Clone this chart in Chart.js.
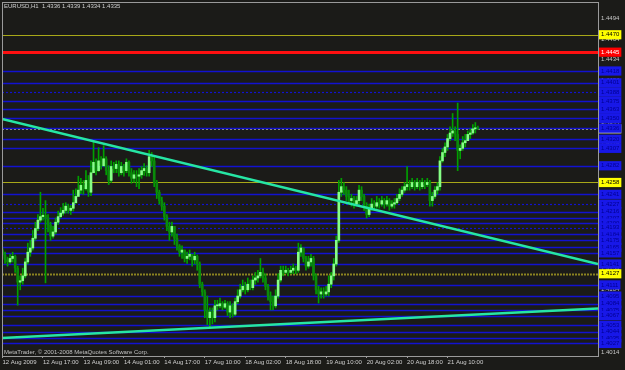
<!DOCTYPE html>
<html>
<head>
<meta charset="utf-8">
<script src="https://cdn.jsdelivr.net/npm/chart.js@4.4.1/dist/chart.umd.min.js"></script>
<style>
  html, body { margin: 0; padding: 0; background: #1b1b18; }
  #wrap { width: 625px; height: 370px; position: relative; }
</style>
</head>
<body>
<div id="wrap"><canvas id="chart"></canvas></div>
<script>
// EURUSD H1, 12-21 Aug 2009 (hourly bars, open = previous close)
const titleText = 'EURUSD,H1  1.4336 1.4339 1.4334 1.4335';
const copyright = 'MetaTrader, \u00a9 2001-2008 MetaQuotes Software Corp.';

const timeLabels = ['12 Aug 2009', '12 Aug 17:00', '13 Aug 09:00', '14 Aug 01:00', '14 Aug 17:00',
  '17 Aug 10:00', '18 Aug 02:00', '18 Aug 18:00', '19 Aug 10:00', '20 Aug 02:00', '20 Aug 18:00', '21 Aug 10:00'];
const timeTickBars = [0, 16, 32, 48, 64, 80, 96, 112, 128, 144, 160, 176];

const firstOpen = 1.4161;
const closes = [
  1.4154, 1.4147, 1.4144, 1.4149, 1.4152, 1.4135, 1.4115, 1.4117, 1.4124, 1.4144,
  1.4158, 1.4164, 1.4178, 1.4192, 1.4204, 1.4209, 1.4211, 1.4207, 1.4197, 1.4181,
  1.4187, 1.4201, 1.4209, 1.4214, 1.4218, 1.4224, 1.4218, 1.4221, 1.4229, 1.4238,
  1.4247, 1.4254, 1.4249, 1.4261, 1.4244, 1.4272, 1.4287, 1.4275, 1.4289, 1.4282,
  1.4292, 1.4275, 1.4261, 1.4281, 1.4278, 1.4284, 1.4272, 1.4281, 1.4275, 1.4287,
  1.4272, 1.4264, 1.4269, 1.4267, 1.4269, 1.4275, 1.4278, 1.4272, 1.4295, 1.4289,
  1.4258, 1.4244, 1.4232, 1.4224, 1.4209, 1.4195, 1.4187, 1.4195, 1.4178, 1.4167,
  1.4158, 1.4161, 1.4149, 1.4152, 1.4155, 1.4147, 1.4152, 1.4141, 1.4112, 1.4101,
  1.4075, 1.4064, 1.4072, 1.4064, 1.4081, 1.4081, 1.4084, 1.4079, 1.4084, 1.4072,
  1.4081, 1.4069, 1.4087, 1.4095, 1.4104, 1.4109, 1.4104, 1.4112, 1.4107, 1.4118,
  1.4121, 1.4124, 1.4129, 1.4121, 1.4109, 1.4095, 1.4087, 1.4081, 1.4095, 1.4118,
  1.4132, 1.4129, 1.4132, 1.4129, 1.4132, 1.4135, 1.4132, 1.4158, 1.4164, 1.4149,
  1.4138, 1.4144, 1.4149, 1.4124, 1.4104, 1.4098, 1.4101, 1.4098, 1.4101, 1.4112,
  1.4124, 1.4141, 1.4175, 1.4244, 1.4252, 1.4247, 1.4238, 1.4232, 1.4235, 1.4227,
  1.4232, 1.4247, 1.4238, 1.4224, 1.4212, 1.4221, 1.4227, 1.4224, 1.4229, 1.4227,
  1.4232, 1.4227, 1.4232, 1.4224, 1.4227, 1.4229, 1.4235, 1.4241, 1.4247, 1.4252,
  1.4255, 1.4252, 1.4258, 1.4252, 1.4258, 1.4252, 1.4258, 1.4255, 1.4258, 1.4232,
  1.4238, 1.4247, 1.4252, 1.4289, 1.4301, 1.4309, 1.4321, 1.4329, 1.4332, 1.4327,
  1.4304, 1.4307, 1.4315, 1.4318, 1.4327, 1.4329, 1.4335, 1.4336, 1.4335
];
const highs = [
  1.4164, 1.4158, 1.4151, 1.4155, 1.4158, 1.4154, 1.4138, 1.4124, 1.4135, 1.4149,
  1.4171, 1.4175, 1.4189, 1.4201, 1.4212, 1.4244, 1.4221, 1.4232, 1.4212, 1.4201,
  1.4195, 1.4207, 1.4217, 1.4222, 1.4228, 1.4229, 1.4227, 1.4225, 1.4247, 1.4249,
  1.4267, 1.4264, 1.4261, 1.4275, 1.4268, 1.4289, 1.4318, 1.4292, 1.4308, 1.4295,
  1.4311, 1.4295, 1.4282, 1.4289, 1.4287, 1.4289, 1.4289, 1.4287, 1.4284, 1.4292,
  1.4289, 1.4278, 1.4275, 1.4275, 1.4278, 1.4281, 1.4285, 1.4282, 1.4304, 1.4301,
  1.4294, 1.4261, 1.4247, 1.4237, 1.4229, 1.4212, 1.4201, 1.4201, 1.4195, 1.4184,
  1.4169, 1.4167, 1.4161, 1.4158, 1.4161, 1.4155, 1.4158, 1.4154, 1.4144, 1.4115,
  1.4104, 1.4095, 1.4078, 1.4078, 1.4089, 1.4089, 1.4092, 1.4087, 1.4089, 1.4087,
  1.4087, 1.4084, 1.4092, 1.4104, 1.4112, 1.4118, 1.4115, 1.4121, 1.4118, 1.4124,
  1.4129, 1.4132, 1.4149, 1.4135, 1.4127, 1.4112, 1.4101, 1.4095, 1.4104, 1.4127,
  1.4138, 1.4138, 1.4138, 1.4135, 1.4138, 1.4141, 1.4138, 1.4171, 1.4169, 1.4164,
  1.4152, 1.4152, 1.4155, 1.4152, 1.4127, 1.4109, 1.4107, 1.4107, 1.4109, 1.4124,
  1.4129, 1.4149, 1.4181, 1.4261, 1.4264, 1.4258, 1.4252, 1.4247, 1.4241, 1.4238,
  1.4238, 1.4254, 1.4252, 1.4241, 1.4229, 1.4227, 1.4235, 1.4232, 1.4238, 1.4235,
  1.4238, 1.4235, 1.4238, 1.4235, 1.4232, 1.4235, 1.4241, 1.4249, 1.4252, 1.4258,
  1.4281, 1.4261, 1.4264, 1.4261, 1.4264, 1.4261, 1.4264, 1.4261, 1.4264, 1.4261,
  1.4244, 1.4252, 1.4258, 1.4295, 1.4307, 1.4315, 1.4327, 1.4338, 1.4357, 1.4338,
  1.4372, 1.4312, 1.4324, 1.4327, 1.4332, 1.4335, 1.4341, 1.4344, 1.4339
];
const lows = [
  1.4149, 1.4142, 1.4138, 1.4142, 1.4144, 1.4129, 1.4082, 1.4104, 1.4112, 1.4121,
  1.4141, 1.4152, 1.4161, 1.4175, 1.4189, 1.4201, 1.4204, 1.4114, 1.4187, 1.4175,
  1.4178, 1.4184, 1.4198, 1.4207, 1.4211, 1.4214, 1.4214, 1.4212, 1.4217, 1.4228,
  1.4238, 1.4242, 1.4241, 1.4247, 1.4238, 1.4239, 1.4272, 1.4269, 1.4274, 1.4277,
  1.4281, 1.4269, 1.4255, 1.4258, 1.4272, 1.4272, 1.4267, 1.4269, 1.4267, 1.4272,
  1.4267, 1.4257, 1.4258, 1.4252, 1.4249, 1.4264, 1.4268, 1.4267, 1.4267, 1.4281,
  1.4252, 1.4235, 1.4227, 1.4218, 1.4204, 1.4189, 1.4175, 1.4181, 1.4169, 1.4161,
  1.4152, 1.4149, 1.4144, 1.4142, 1.4147, 1.4138, 1.4141, 1.4132, 1.4107, 1.4095,
  1.4064, 1.4054, 1.4049, 1.4055, 1.4058, 1.4075, 1.4078, 1.4075, 1.4077, 1.4067,
  1.4064, 1.4065, 1.4067, 1.4084, 1.4092, 1.4101, 1.4098, 1.4101, 1.4104, 1.4104,
  1.4112, 1.4115, 1.4121, 1.4115, 1.4104, 1.4089, 1.4075, 1.4075, 1.4078, 1.4092,
  1.4115, 1.4124, 1.4127, 1.4124, 1.4127, 1.4127, 1.4127, 1.4129, 1.4152, 1.4144,
  1.4132, 1.4135, 1.4138, 1.4118, 1.4098, 1.4085, 1.4092, 1.4092, 1.4095, 1.4095,
  1.4107, 1.4118, 1.4138, 1.4172, 1.4238, 1.4241, 1.4232, 1.4227, 1.4224, 1.4221,
  1.4224, 1.4227, 1.4232, 1.4218, 1.4207, 1.4209, 1.4218, 1.4218, 1.4221, 1.4221,
  1.4224, 1.4221, 1.4224, 1.4218, 1.4221, 1.4221, 1.4227, 1.4232, 1.4238, 1.4244,
  1.4247, 1.4247, 1.4249, 1.4247, 1.4249, 1.4247, 1.4249, 1.4249, 1.4252, 1.4224,
  1.4224, 1.4235, 1.4241, 1.4247, 1.4287, 1.4295, 1.4304, 1.4318, 1.4324, 1.4318,
  1.4275, 1.4292, 1.4304, 1.4309, 1.4318, 1.4321, 1.4327, 1.4329, 1.4334
];

// horizontal levels drawn on the chart
const blueLevels = [1.4418, 1.4401, 1.4375, 1.4363, 1.4350, 1.4336, 1.4320, 1.4307, 1.4282, 1.4241,
  1.4216, 1.4207, 1.4200, 1.4184, 1.4175, 1.4165, 1.4157, 1.4141, 1.4111, 1.4095,
  1.4084, 1.4075, 1.4067, 1.4053, 1.4044, 1.4035, 1.4027];
const blueDotted = [1.4388, 1.4227, 1.4193];
const yellowLevels = [1.4470, 1.4258];
const redLevels = [1.4445];
const oliveDotted = [1.4127];
const bidLevel = [1.4335];
const gridLabels = [1.4494, 1.4464, 1.4434, 1.4404, 1.4374, 1.4344, 1.4314, 1.4284, 1.4254, 1.4224,
  1.4194, 1.4164, 1.4134, 1.4104, 1.4074, 1.4044, 1.4014];

// trend lines: price at left edge and right edge of the chart
const trendDown = [1.4349, 1.4141];
const trendUp = [1.4035, 1.4077];

const xMin = -0.2, xMax = 235.5;
const font = { family: 'Liberation Sans', size: 6 };
const bg = '#1b1b18';

const opens = closes.map((c, i) => i === 0 ? firstOpen : closes[i - 1]);
const wickData = closes.map((c, i) => ({ x: i, y: [Math.min(lows[i], opens[i], c), Math.max(highs[i], opens[i], c)] }));
const bodyData = closes.map((c, i) => ({ x: i, y: [opens[i], c] }));
const bodyColors = closes.map((c, i) => c >= opens[i] ? '#86ff86' : '#0a8a0a');

// right axis labels: grid values, bid, then coloured level boxes on top
const axisLabels = [];
gridLabels.forEach(v => axisLabels.push({ v, bg: 'rgba(0,0,0,0)', fg: '#c8c8c8' }));
bidLevel.forEach(v => axisLabels.push({ v, bg: '#d8d8d8', fg: '#000000' }));
blueLevels.concat(blueDotted).forEach(v => axisLabels.push({ v, bg: '#1818e8', fg: '#000090' }));
oliveDotted.forEach(v => axisLabels.push({ v, bg: '#ffff00', fg: '#000000' }));
yellowLevels.forEach(v => axisLabels.push({ v, bg: '#ffff00', fg: '#000000' }));
redLevels.forEach(v => axisLabels.push({ v, bg: '#ff0000', fg: '#ffffff' }));

const levelLines = [
  { vals: blueLevels, color: '#1212d0', width: 1.4, dash: [] },
  { vals: blueDotted, color: '#1212d0', width: 1.2, dash: [2, 2] },
  { vals: bidLevel, color: '#8a8a8a', width: 1, dash: [2, 2] },
  { vals: oliveDotted, color: '#8c8420', width: 2, dash: [2, 1] },
  { vals: yellowLevels, color: '#a8a818', width: 1.2, dash: [] },
  { vals: redLevels, color: '#ff1010', width: 3, dash: [] }
];

const mtPlugin = {
  id: 'mt',
  beforeDraw(chart) {
    const c = chart.ctx;
    c.save();
    c.fillStyle = bg;
    c.fillRect(0, 0, chart.width, chart.height);
    c.restore();
  },
  beforeDatasetsDraw(chart) {
    const c = chart.ctx, a = chart.chartArea, y = chart.scales.y;
    c.save();
    levelLines.forEach(l => {
      c.strokeStyle = l.color;
      c.lineWidth = l.width;
      c.setLineDash(l.dash);
      l.vals.forEach(v => {
        const py = Math.round(y.getPixelForValue(v)) + 0.5;
        c.beginPath();
        c.moveTo(a.left, py);
        c.lineTo(a.right, py);
        c.stroke();
      });
    });
    c.restore();
  },
  afterDraw(chart) {
    const c = chart.ctx, a = chart.chartArea;
    c.save();
    c.strokeStyle = '#9a9a9a';
    c.lineWidth = 1;
    c.strokeRect(a.left + 0.5, a.top + 0.5, a.right - a.left, a.bottom - a.top);
    c.fillStyle = '#d0d0d0';
    c.font = '6px "Liberation Sans"';
    c.textBaseline = 'middle';
    c.fillText(titleText, 4, 6.5);
    c.fillStyle = '#c0c0c0';
    c.fillText(copyright, 4, a.bottom - 4);
    c.restore();
  }
};

new Chart(document.getElementById('chart'), {
  type: 'bar',
  data: {
    datasets: [
      { type: 'line', data: [{ x: xMin, y: trendDown[0] }, { x: xMax, y: trendDown[1] }],
        borderColor: '#26e6a4', borderWidth: 2.5, pointRadius: 0, order: 0 },
      { type: 'line', data: [{ x: xMin, y: trendUp[0] }, { x: xMax, y: trendUp[1] }],
        borderColor: '#26e6a4', borderWidth: 2.5, pointRadius: 0, order: 0 },
      { data: bodyData, backgroundColor: bodyColors, barThickness: 2, minBarLength: 1, grouped: false, order: 1 },
      { data: wickData, backgroundColor: '#00a000', barThickness: 1, grouped: false, order: 2 }
    ]
  },
  options: {
    responsive: true,
    maintainAspectRatio: false,
    animation: false,
    layout: { padding: { left: 2, top: 2, right: 0, bottom: 0 } },
    plugins: { legend: { display: false }, tooltip: { enabled: false } },
    scales: {
      x: {
        type: 'linear',
        offset: false,
        min: xMin,
        max: xMax,
        afterBuildTicks: axis => { axis.ticks = timeTickBars.map(v => ({ value: v })); },
        afterFit: axis => { axis.height = 14; axis.paddingLeft = 0; axis.paddingRight = 0; },
        grid: { drawOnChartArea: false, drawTicks: true, tickLength: 2, color: '#9a9a9a', offset: false },
        border: { display: false },
        ticks: {
          autoSkip: false, maxRotation: 0, align: 'start', padding: 1,
          color: '#cfcfcf', font,
          callback: (v, i) => timeLabels[i]
        }
      },
      y: {
        position: 'right',
        min: 1.4009,
        max: 1.4517,
        afterBuildTicks: axis => { axis.ticks = axisLabels.map(l => ({ value: l.v })); },
        afterFit: axis => { axis.width = 27; axis.paddingTop = 0; axis.paddingBottom = 0; },
        grid: { display: false, drawTicks: false },
        border: { display: false },
        ticks: {
          autoSkip: false, padding: 3, font,
          color: ctx => axisLabels[ctx.index] ? axisLabels[ctx.index].fg : '#c8c8c8',
          showLabelBackdrop: true,
          backdropColor: ctx => axisLabels[ctx.index] ? axisLabels[ctx.index].bg : 'rgba(0,0,0,0)',
          backdropPadding: { x: 2, y: 1 },
          callback: v => v.toFixed(4)
        }
      }
    }
  },
  plugins: [mtPlugin]
});
</script>
</body>
</html>
